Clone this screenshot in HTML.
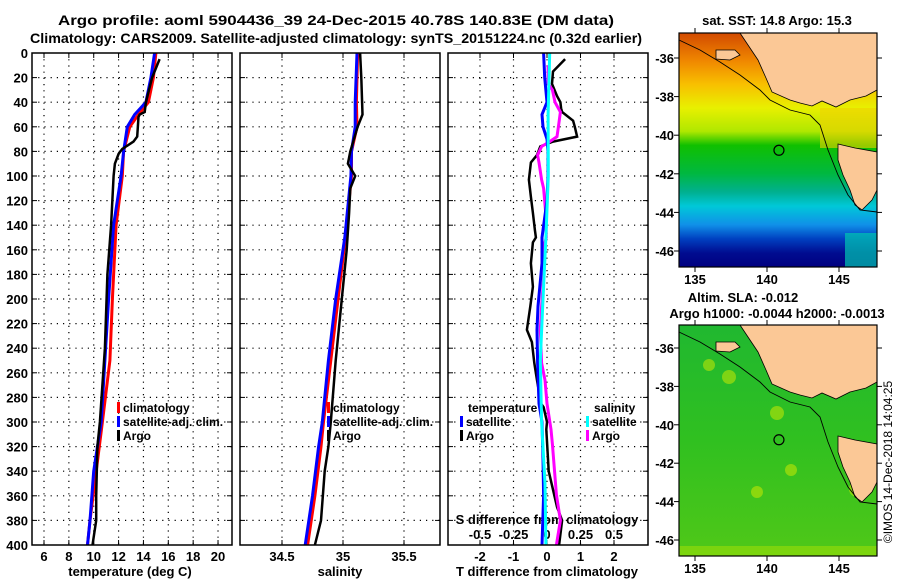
<!DOCTYPE html>
<html><head><meta charset="utf-8"><style>
html,body{margin:0;padding:0;background:#fff}
svg text{font-family:"Liberation Sans",Arial,sans-serif;font-weight:bold;fill:#000}
</style></head><body>
<svg id="chart" width="900" height="580" viewBox="0 0 900 580" xmlns="http://www.w3.org/2000/svg">
<rect width="900" height="580" fill="#fff"/>
<text x="336" y="25" font-size="14" text-anchor="middle" textLength="556" lengthAdjust="spacingAndGlyphs">Argo profile: aoml 5904436_39 24-Dec-2015 40.78S 140.83E (DM data)</text>
<text x="336" y="43" font-size="14" text-anchor="middle" textLength="612" lengthAdjust="spacingAndGlyphs">Climatology: CARS2009. Satellite-adjusted climatology: synTS_20151224.nc (0.32d earlier)</text>
<g id="panels"></g>
<g id="maps"></g>
<text transform="translate(892,462) rotate(-90)" font-size="12" text-anchor="middle" style="font-weight:normal">©IMOS 14-Dec-2018 14:04:25</text>
</svg>
<script>
// ---------- data ----------
const depthTicks = [0,20,40,60,80,100,120,140,160,180,200,220,240,260,280,300,320,340,360,380,400];
const tempTicks = [6,8,10,12,14,16,18,20];
const salTicks = [34.5,35,35.5];
const tdiffTicks = [-2,-1,0,1,2];
const sdiffTicks = [-0.5,-0.25,0,0.25,0.5];
const sdiffTickLabels = ["-0.5","-0.25","0","0.25","0.5"];

const tArgoDepth = [5,20,40,48,50,52,68,72,78,82,90,100,140,180,240,300,320,360,380,400];
const tArgoVal   = [15.3,14.7,14.2,14.1,13.7,13.6,13.5,13.2,12.3,12.0,11.7,11.6,11.4,11.1,10.9,10.5,10.3,10.2,10.2,9.9];
const tClimDepth = [0,20,40,50,60,80,100,140,200,250,300,340,380,400];
const tClimVal   = [15.0,14.8,14.4,13.6,12.9,12.4,12.3,11.8,11.5,11.3,10.7,10.2,9.7,9.5];
const tSatDepth  = [0,20,40,50,60,80,100,140,200,250,300,340,380,400];
const tSatVal    = [14.9,14.6,14.2,13.3,12.7,12.4,12.2,11.6,11.2,10.9,10.6,10.0,9.7,9.5];

const sArgoDepth = [0,20,50,60,80,90,100,110,130,160,200,250,300,320,340,380,400];
const sArgoVal   = [35.14,35.15,35.16,35.12,35.06,35.04,35.10,35.06,35.05,35.03,34.99,34.94,34.90,34.88,34.85,34.82,34.77];
const sClimDepth = [0,40,60,80,100,150,200,250,300,320,360,400];
const sClimVal   = [35.12,35.11,35.115,35.07,35.07,35.02,34.96,34.90,34.84,34.82,34.77,34.71];
const sSatDepth  = [0,40,60,80,100,150,200,250,300,320,360,400];
const sSatVal    = [35.115,35.10,35.10,35.07,35.065,35.015,34.94,34.88,34.83,34.80,34.75,34.69];

const dtArgoDepth = [5,15,25,35,40,45,48,55,60,68,72,76,83,89,103,117,130,144,150,154,171,190,206,225,235,252,266,285,288,300,306,340,369,380,400];
const dtArgoVal   = [0.54,0.18,0.15,0.3,0.4,0.42,0.45,0.78,0.83,0.9,0.18,-0.2,-0.3,-0.48,-0.54,-0.48,-0.42,-0.36,-0.33,-0.42,-0.48,-0.42,-0.5,-0.6,-0.45,-0.38,-0.3,-0.18,-0.1,0,-0.02,0.05,0.3,0.45,0.36];
const dsArgoDepth = [10,25,30,40,48,60,68,72,76,83,89,103,110,130,150,154,171,190,206,225,252,266,285,306,318,359,380,400];
const dsArgoVal   = [0.008,0.008,0.04,0.06,0.1,0.085,0.075,0.02,-0.04,-0.07,-0.06,-0.04,-0.025,-0.01,-0.005,-0.015,-0.02,-0.03,-0.04,-0.05,-0.04,-0.015,0,0.03,0.04,0.07,0.1,0.07];
const dtSatDepth  = [0,20,40,50,60,70,80,100,120,150,171,206,225,252,285,300,330,360,400];
const dtSatVal    = [-0.1,-0.07,0,-0.15,-0.12,0,0.03,0.03,0,-0.15,-0.15,-0.27,-0.3,-0.28,-0.24,-0.15,-0.12,-0.1,-0.15];
const dsSatDepth  = [0,50,100,150,200,250,300,350,400];
const dsSatVal    = [0.02,0.008,0.01,-0.008,-0.03,-0.05,-0.04,-0.015,-0.008];

const mapLonTicks = [135,140,145];
const mapLatTicks = [-36,-38,-40,-42,-44,-46];
const argoLon = 140.83, argoLat = -40.78;

// ---------- axes ----------
const TOP=53, BOT=545;
const yD = d => TOP + d*1.23;
const xT = t => 44 + (t-6)*12.43;
const xS = s => 343 + (s-35)*122;
const xDT = t => 547 + t*33.5;
const xDS = s => 547 + s*134;
const NS='http://www.w3.org/2000/svg';
function mk(tag, attrs, parent){const e=document.createElementNS(NS,tag);for(const k in attrs)e.setAttribute(k,attrs[k]);parent.appendChild(e);return e;}
const P=document.getElementById('panels');
const panels=[{l:32,r:232,name:'temperature-panel'},{l:240,r:440,name:'salinity-panel'},{l:448,r:648,name:'difference-panel'}];
const vgrid=[tempTicks.map(xT),salTicks.map(xS),tdiffTicks.map(xDT)];
panels.forEach((p,i)=>{
  const g=mk('g',{},P);
  
  
  depthTicks.forEach(d=>{ if(d>0&&d<400){const ln=mk('line',{x1:p.l,x2:p.r,y1:yD(d),y2:yD(d),stroke:'#000','stroke-width':1.2,'stroke-dasharray':'1.2 5'},g);
     }
    mk('line',{x1:p.l,x2:p.l+5,y1:yD(d),y2:yD(d),stroke:'#000'},g);
    mk('line',{x1:p.r-5,x2:p.r,y1:yD(d),y2:yD(d),stroke:'#000'},g);});
  vgrid[i].forEach(x=>{const ln=mk('line',{x1:x,x2:x,y1:TOP,y2:BOT,stroke:'#000','stroke-width':1.2,'stroke-dasharray':'1.2 5'},g);
     
    mk('line',{x1:x,x2:x,y1:BOT-5,y2:BOT,stroke:'#000'},g);mk('line',{x1:x,x2:x,y1:TOP,y2:TOP+5,stroke:'#000'},g);});
});
depthTicks.forEach(d=>{const t=mk('text',{x:28,y:yD(d)+5,'font-size':13,'text-anchor':'end'},P);t.textContent=d;
   });
function xlabels(ticks,fx,labels,y,fs){ticks.forEach((v,i)=>{const t=mk('text',{x:fx(v),y:y,'font-size':fs,'text-anchor':'middle'},P);t.textContent=labels?labels[i]:v;
   });}
xlabels(tempTicks,xT,null,561,13);
xlabels(salTicks,xS,null,561,13);
xlabels(tdiffTicks,xDT,null,561,13);
xlabels(sdiffTicks,xDS,sdiffTickLabels,539,13);
function title(x,y,s,n){const t=mk('text',{x:x,y:y,'font-size':13,'text-anchor':'middle'},P);t.textContent=s;}
title(130,576,'temperature (deg C)','x-axis-title-temperature');
title(340,576,'salinity','x-axis-title-salinity');
title(547,576,'T difference from climatology','x-axis-title-tdiff');
title(547,524,'S difference from climatology','s-diff-axis-title');
function line(dep,val,fx,col,w,name){const pts=dep.map((d,i)=>fx(val[i]).toFixed(1)+','+yD(d).toFixed(1)).join(' ');
  const e=mk('polyline',{points:pts,fill:'none',stroke:col,'stroke-width':w,'stroke-linejoin':'miter'},P);
   }
line(tClimDepth,tClimVal,xT,'#ff0000',3,'temperature-climatology-line');
line(tSatDepth,tSatVal,xT,'#0000ff',3,'temperature-satellite-line');
line(tArgoDepth,tArgoVal,xT,'#000',2.5,'temperature-argo-line');
line(sClimDepth,sClimVal,xS,'#ff0000',3,'salinity-climatology-line');
line(sSatDepth,sSatVal,xS,'#0000ff',3,'salinity-satellite-line');
line(sArgoDepth,sArgoVal,xS,'#000',2.5,'salinity-argo-line');
line(dtArgoDepth,dtArgoVal,xDT,'#000',2.5,'tdiff-argo-line');
line(dsArgoDepth,dsArgoVal,xDS,'#ff00ff',3,'sdiff-argo-line');
line(dtSatDepth,dtSatVal,xDT,'#0000ff',3,'tdiff-satellite-line');
line(dsSatDepth,dsSatVal,xDS,'#00ffff',3,'sdiff-satellite-line');
panels.forEach(p=>mk('rect',{x:p.l,y:TOP,width:p.r-p.l,height:BOT-TOP,fill:'none',stroke:'#000','stroke-width':1.5},P));
function leg(x,y,col,s,n){ if(col){mk('rect',{x:x,y:y-9,width:3,height:11,fill:col},P);}
  const t=mk('text',{x:x+(col?6:0),y:y+1,'font-size':12},P);t.textContent=s;}
leg(117,411,'#ff0000','climatology','legend-climatology');
leg(117,425,'#0000ff','satellite-adj. clim.','legend-satellite-adj');
leg(117,439,'#000','Argo','legend-argo');
leg(327,411,'#ff0000','climatology','legend-sal-climatology');
leg(327,425,'#0000ff','satellite-adj. clim.','legend-sal-satellite-adj');
leg(327,439,'#000','Argo','legend-sal-argo');
leg(468,411,null,'temperature','legend-temperature-header');
leg(460,425,'#0000ff','satellite','legend-t-satellite');
leg(460,439,'#000','Argo','legend-t-argo');
leg(594,411,null,'salinity','legend-salinity-header');
leg(586,425,'#00ffff','satellite','legend-s-satellite');
leg(586,439,'#ff00ff','Argo','legend-s-argo');

// ---------- maps ----------
const M=document.getElementById('maps');
function drawMap(top,bottom,kind,lat36,pxLat){
  const L=679,R=877;
  const lonX=lon=>695+(lon-135)*14.4;
  const latY=lat=>lat36+(-36-lat)*pxLat;
  const g=mk('g',{},M);
  
  
  const id='grad'+kind;
  const defs=mk('defs',{},g);
  const lg=mk('linearGradient',{id:id,x1:0,y1:0,x2:0,y2:1},defs);
  const stops= kind==='sst'
    ? [[0,'#d24a00'],[0.12,'#f08800'],[0.22,'#f8c000'],[0.32,'#e8f000'],[0.42,'#b0e800'],[0.48,'#10c000'],[0.6,'#00b840'],[0.68,'#00b090'],[0.74,'#00c8d8'],[0.82,'#1090e8'],[0.88,'#0040c0'],[0.94,'#000c90'],[1,'#000080']]
    : [[0,'#20b830'],[0.5,'#30c020'],[1,'#50c818']];
  stops.forEach(s=>mk('stop',{offset:s[0],'stop-color':s[1]},lg));
  mk('rect',{x:L,y:top,width:R-L,height:bottom-top,fill:'url(#'+id+')'},g);
  const o=top-33;
  if(kind==='sst'){
    mk('rect',{x:845,y:top+200,width:32,height:bottom-top-200,fill:'#00c8b0',opacity:0.7},g);
    mk('rect',{x:820,y:top+75,width:57,height:40,fill:'#f0d000',opacity:0.6},g);
  } else {
    [[709,o+73,6],[729,o+85,7],[777,o+121,7],[757,o+200,6],[791,o+178,6],[857,o+197,8]].forEach(b=>{
      mk('circle',{cx:b[0],cy:b[1],r:b[2],fill:'#d8ec00',opacity:0.5},g);
    });
    mk('rect',{x:L,y:bottom-10,width:R-L,height:10,fill:'#c0e800',opacity:0.4},g);
  }
  const land1=[[740,33],[748,45],[758,60],[766,78],[772,92],[790,100],[800,103],[812,106],[822,101],[836,107],[850,100],[866,96],[877,90],[877,33]];
  const tas=[[838,144],[855,148],[877,152],[877,190],[872,200],[862,210],[855,205],[850,190],[843,175],[838,160]];
  const ki=[[716,50],[735,50],[740,55],[730,60],[716,59]];
  [land1,tas,ki].forEach(poly=>mk('polygon',{points:poly.map(p=>p[0]+','+(p[1]+o)).join(' '),fill:'#fbc896',stroke:'#000','stroke-width':0.8},g));
  const coast=[[679,40],[700,50],[720,62],[740,75],[760,90],[770,100],[790,110],[810,115],[820,125],[828,150],[838,175],[848,195],[860,210],[877,212]];
  mk('polyline',{points:coast.map(p=>p[0]+','+(p[1]+o)).join(' '),fill:'none',stroke:'#000','stroke-width':0.9},g);
  const c=mk('circle',{cx:lonX(argoLon),cy:latY(argoLat),r:5,fill:'none',stroke:'#000','stroke-width':1.2},g);
   
  mk('rect',{x:L,y:top,width:R-L,height:bottom-top,fill:'none',stroke:'#000','stroke-width':1.2},g);
  mapLatTicks.forEach(lat=>{const y=latY(lat);mk('line',{x1:L-5,x2:L,y1:y,y2:y,stroke:'#000'},g);mk('line',{x1:R,x2:R+5,y1:y,y2:y,stroke:'#000'},g);
    const t=mk('text',{x:674,y:y+5,'font-size':13,'text-anchor':'end'},g);t.textContent=lat;
     });
  mapLonTicks.forEach(lon=>{const x=lonX(lon);mk('line',{x1:x,x2:x,y1:top-5,y2:top,stroke:'#000'},g);mk('line',{x1:x,x2:x,y1:bottom,y2:bottom+5,stroke:'#000'},g);
    const t=mk('text',{x:x,y:bottom+17,'font-size':13,'text-anchor':'middle'},g);t.textContent=lon;
     });
}
drawMap(33,267,'sst',58,19.3);
drawMap(325,556,'sla',348,19.2);
function mt(x,y,s,n){const t=mk('text',{x:x,y:y,'font-size':13,'text-anchor':'middle'},M);t.textContent=s;}
mt(777,25,'sat. SST: 14.8 Argo: 15.3','sst-map-title');
mt(743,302,'Altim. SLA: -0.012','sla-map-title');
mt(777,318,'Argo h1000: -0.0044 h2000: -0.0013','sla-map-subtitle');
</script>
</body></html>
